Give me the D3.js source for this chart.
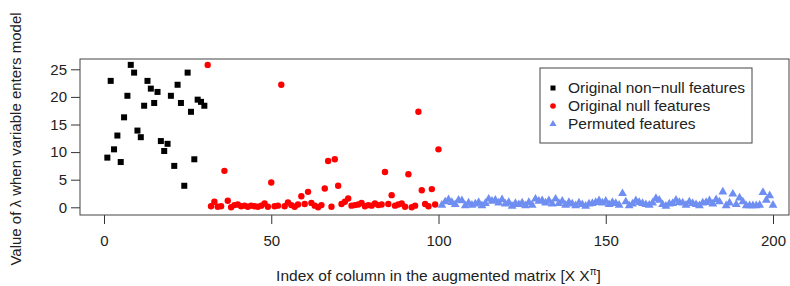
<!DOCTYPE html>
<html>
<head>
<meta charset="utf-8">
<script src="https://cdn.jsdelivr.net/npm/d3@7"></script>
<style>
body{margin:0;background:#fff;}
svg text{font-family:"Liberation Sans",Arial,Helvetica,sans-serif;font-size:15.5px;fill:#222;}
</style>
</head>
<body>
<svg id="graph"></svg>
<script>
// lambda at which each column enters the model
var nonNullVals=[9.0,22.9,10.5,13.0,8.2,16.3,20.2,25.8,24.4,13.9,12.7,18.4,22.9,21.5,18.9,
20.9,12.0,10.2,11.5,20.2,7.5,22.2,18.9,3.9,24.4,17.3,8.7,19.5,19.1,18.4]
var nullVals=[25.8,0.2,1.0,0.1,0.2,6.6,1.2,0.0,0.4,0.5,0.2,0.3,0.1,0.3,0.2,0.1,0.3,0.7,0.1,4.5,
0.2,0.3,22.2,0.2,0.9,0.4,0.1,0.5,2.0,0.6,2.8,0.8,0.3,0.0,0.4,3.4,8.4,0.1,8.7,3.9,
0.6,1.0,1.6,0.3,0.4,0.5,0.8,0.2,0.4,0.3,0.7,0.4,0.5,6.4,0.6,2.2,0.3,0.5,0.7,0.1,
6.0,0.0,0.3,17.3,3.1,0.6,0.2,3.3,0.5,10.5]
var permVals=[0.4,1.0,1.4,0.9,0.5,1.3,1.2,0.3,0.8,0.4,0.6,0.9,0.3,0.7,1.5,1.1,1.3,0.8,1.4,0.6,
0.9,0.2,0.7,0.5,0.8,0.3,0.9,0.4,1.5,1.1,1.2,0.8,1.2,0.6,1.5,0.7,1.1,0.4,0.9,0.6,
0.3,0.8,0.5,0.2,0.6,0.7,0.9,1.2,0.8,1.1,0.5,0.9,0.7,0.4,2.5,1.0,0.3,0.6,1.2,0.9,
0.7,0.5,0.4,0.8,1.6,1.3,0.5,0.2,0.6,0.7,1.3,0.9,0.8,0.4,1.0,0.7,0.5,0.3,0.8,0.9,
1.2,0.6,1.4,1.0,2.8,0.3,0.8,2.4,0.5,1.7,1.0,0.3,0.3,0.3,0.3,0.4,2.7,1.3,2.1,0.4]
var xTicks=[0,50,100,150,200]
var yTicks=[0,5,10,15,20,25]
var legendLabels=["Original non\u2212null features","Original null features","Permuted features"]

var toPoints=function(vals,start)
{
    return vals.map(function(v,i){ return {idx:start+i,val:v} })
}

var screen={width:790,height:286}
var box={left:80,right:789,top:59,bottom:215}

var svg=d3.select("#graph")
.attr("width",screen.width)
.attr("height",screen.height)

var xScale=d3.scaleLinear()
.domain([0,200])
.range([104,773])

var yScale=d3.scaleLinear()
.domain([0,25])
.range([207.3,69.3])

// x axis
var xAxis=svg.append("g")
.attr("transform","translate(0,"+box.bottom+")")
.call(d3.axisBottom(xScale).tickValues(xTicks).tickSize(9).tickPadding(11).tickFormat(d3.format("d")))
xAxis.select(".domain").remove()
xAxis.selectAll("line").attr("stroke","#333")
xAxis.selectAll("text").style("font-size","15px").attr("fill","#222")

// y axis
var yAxis=svg.append("g")
.attr("transform","translate("+box.left+",0)")
.call(d3.axisLeft(yScale).tickValues(yTicks).tickSize(9).tickPadding(4))
yAxis.select(".domain").remove()
yAxis.selectAll("line").attr("stroke","#333")
yAxis.selectAll("text").style("font-size","15px").attr("fill","#222")

svg.append("rect")
.attr("x",box.left)
.attr("y",box.top)
.attr("width",box.right-box.left)
.attr("height",box.bottom-box.top)
.attr("fill","none")
.attr("stroke","#444")

// titles
var xt=svg.append("text")
.attr("x",(xScale(0)+xScale(200))/2)
.attr("y",281)
.attr("text-anchor","middle")
xt.append("tspan").text("Index of column in the augmented matrix [X X")
xt.append("tspan").attr("dy",-6).style("font-size","10px").text("\u03c0")
xt.append("tspan").attr("dy",6).text("]")

svg.append("text")
.attr("transform","translate(21,139) rotate(-90)")
.attr("text-anchor","middle")
.style("font-size","15px")
.text("Value of \u03bb when variable enters model")

var plot=svg.append("g")

plot.selectAll("rect.nn")
.data(toPoints(nonNullVals,1))
.enter()
.append("rect")
.attr("class","nn")
.attr("x",function(d){ return xScale(d.idx)-3 })
.attr("y",function(d){ return yScale(d.val)-3 })
.attr("width",6)
.attr("height",6)
.attr("fill","#000")

plot.selectAll("circle.nl")
.data(toPoints(nullVals,31))
.enter()
.append("circle")
.attr("class","nl")
.attr("cx",function(d){ return xScale(d.idx) })
.attr("cy",function(d){ return yScale(d.val) })
.attr("r",3.2)
.attr("fill","#ff0000")

var tri=d3.symbol().type(d3.symbolTriangle).size(34)
plot.selectAll("path.pm")
.data(toPoints(permVals,101))
.enter()
.append("path")
.attr("class","pm")
.attr("d",tri)
.attr("transform",function(d){ return "translate("+xScale(d.idx)+","+yScale(d.val)+")" })
.attr("fill","#6f8ef2")

// legend
var legend=svg.append("g")
legend.append("rect")
.attr("x",540).attr("y",68).attr("width",212).attr("height",75)
.attr("fill","#fff").attr("stroke","#444")

var rowY=[88,106,124]
legend.append("rect").attr("x",550.5).attr("y",rowY[0]-2.5).attr("width",5).attr("height",5).attr("fill","#000")
legend.append("circle").attr("cx",553).attr("cy",rowY[1]).attr("r",2.8).attr("fill","#ff0000")
legend.append("path").attr("d",d3.symbol().type(d3.symbolTriangle).size(22)).attr("transform","translate(553,"+rowY[2]+")").attr("fill","#6f8ef2")

legend.selectAll("text.lg")
.data(legendLabels)
.enter()
.append("text")
.attr("class","lg")
.attr("x",568)
.attr("y",function(d,i){ return rowY[i] })
.attr("dy","0.35em")
.text(function(d){ return d })
</script>
</body>
</html>
